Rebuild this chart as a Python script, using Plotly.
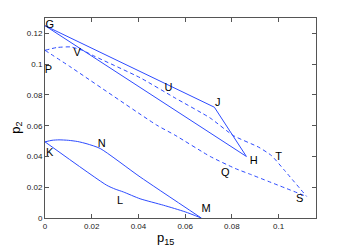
import plotly.graph_objects as go

# Solid triangle G -> J -> H -> G
tri_x = [0.0, 0.0725, 0.0862, 0.0]
tri_y = [0.125, 0.072, 0.040, 0.125]

# Upper dashed curve P -> V -> ... -> T -> S
up_x = [0.0, 0.005, 0.011, 0.016, 0.0214, 0.0407, 0.0557, 0.0707, 0.0807, 0.0915, 0.0970, 0.1025, 0.112]
up_y = [0.109, 0.1108, 0.1112, 0.109, 0.105, 0.0912, 0.078, 0.065, 0.0535, 0.0460, 0.0405, 0.031, 0.014]

# Lower dashed curve P -> Q -> S
lo_x = [0.0, 0.0107, 0.0478, 0.0557, 0.0707, 0.0814, 0.0879, 0.112]
lo_y = [0.109, 0.0984, 0.0604, 0.0538, 0.040, 0.0322, 0.0284, 0.014]

# Solid curve K -> N -> M
kn_x = [0.0, 0.003, 0.006, 0.010, 0.014, 0.018, 0.0236, 0.0407, 0.0669]
kn_y = [0.0495, 0.0505, 0.0508, 0.0505, 0.0497, 0.0482, 0.0452, 0.0267, 0.0]

# Solid curve K -> L -> M
kl_x = [0.0, 0.0264, 0.0300, 0.0336, 0.0407, 0.0507, 0.0600, 0.0669]
kl_y = [0.0495, 0.0213, 0.0188, 0.0169, 0.0125, 0.0083, 0.0040, 0.0]

# Point labels
lab_text = ["G", "P", "V", "U", "J", "H", "T", "Q", "S", "K", "N", "L", "M"]
lab_x = [0.0020, 0.0015, 0.0138, 0.0529, 0.0739, 0.0893, 0.1000, 0.0772, 0.1090, 0.0020, 0.0243, 0.0321, 0.0690]
lab_y = [0.1255, 0.0963, 0.1071, 0.0843, 0.0746, 0.0371, 0.0397, 0.0289, 0.0120, 0.0420, 0.0480, 0.0109, 0.0055]

x_ticks = [0, 0.02, 0.04, 0.06, 0.08, 0.1]
x_tick_labels = ["0", "0.02", "0.04", "0.06", "0.08", "0.1"]
y_ticks = [0, 0.02, 0.04, 0.06, 0.08, 0.1, 0.12]
y_tick_labels = ["0", "0.02", "0.04", "0.06", "0.08", "0.1", "0.12"]
x_title = "p<sub>15</sub>"
y_title = "p<sub>2</sub>"

blue = "rgb(45,75,255)"
font_family = "Liberation Sans, Arial, sans-serif"
fig = go.Figure()
fig.add_trace(go.Scatter(x=tri_x, y=tri_y, mode="lines", line=dict(color=blue, width=1)))
fig.add_trace(go.Scatter(x=up_x, y=up_y, mode="lines", line=dict(color=blue, width=1, dash="4px,3px", shape="spline", smoothing=0.5)))
fig.add_trace(go.Scatter(x=lo_x, y=lo_y, mode="lines", line=dict(color=blue, width=1, dash="4px,3px", shape="spline", smoothing=0.5)))
fig.add_trace(go.Scatter(x=kn_x, y=kn_y, mode="lines", line=dict(color=blue, width=1, shape="spline", smoothing=0.6)))
fig.add_trace(go.Scatter(x=kl_x, y=kl_y, mode="lines", line=dict(color=blue, width=1, shape="spline", smoothing=0.6)))
fig.add_trace(go.Scatter(x=lab_x, y=lab_y, mode="text", text=lab_text,
                         textfont=dict(family=font_family, size=11, color="black")))

axis_common = dict(showgrid=False, zeroline=False, showline=True, linecolor="#555", linewidth=1,
                   mirror="ticks", ticks="inside", ticklen=4, tickcolor="#555", automargin=False,
                   tickfont=dict(family=font_family, size=8, color="#222"))
fig.update_xaxes(range=[0, 0.116], tickvals=x_ticks, ticktext=x_tick_labels, **axis_common)
fig.update_yaxes(range=[0, 0.13], tickvals=y_ticks, ticktext=y_tick_labels, **axis_common)
fig.add_annotation(text=x_title, xref="paper", yref="paper", x=0.445, y=-0.10,
                   xanchor="center", yanchor="middle", showarrow=False,
                   font=dict(size=13, color="black", family=font_family))
fig.add_annotation(text=y_title, xref="paper", yref="paper", x=-0.108, y=0.45,
                   xanchor="center", yanchor="middle", showarrow=False, textangle=-90,
                   font=dict(size=13, color="black", family=font_family))
fig.update_layout(width=341, height=242, margin=dict(l=37, r=33, t=10, b=32),
                  showlegend=False, plot_bgcolor="white", paper_bgcolor="white")
fig.write_html("out.html")
